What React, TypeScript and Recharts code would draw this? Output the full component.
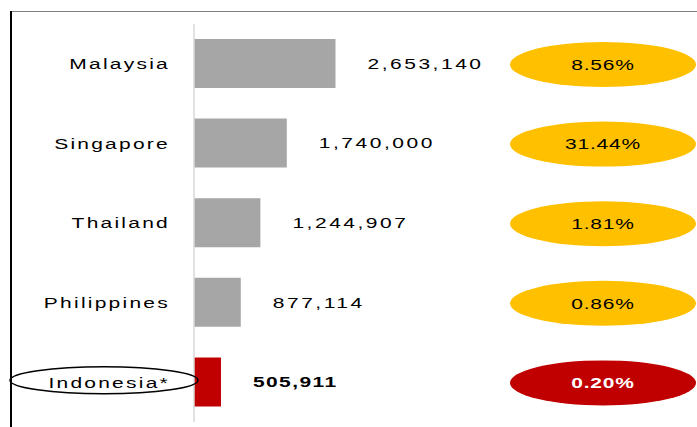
import { Bar, BarChart, Cell, LabelList, XAxis, YAxis } from "recharts";

const countries = ["Malaysia", "Singapore", "Thailand", "Philippines", "Indonesia*"];
const arrivals = [2653140, 1740000, 1244907, 877114, 505911];
const shares = ["8.56%", "31.44%", "1.81%", "0.86%", "0.20%"];
const highlight = "Indonesia*";

const GRAY = "#a6a6a6";
const RED = "#c00000";
const YELLOW = "#ffc000";
const FONT = "'Liberation Sans', Arial, sans-serif";
const STRETCH = 1.4;
const SHARE_CX = 603;

const data = countries.map((country, i) => ({
  country,
  value: arrivals[i],
  share: shares[i],
}));

function box(props: any) {
  const vb = props.viewBox ?? {};
  return {
    x: props.x ?? vb.x,
    y: props.y ?? vb.y,
    width: props.width ?? vb.width,
    height: props.height ?? vb.height,
  };
}

function CountryTick(props: any) {
  const { x, y, payload } = props;
  const hl = payload.value === highlight;
  return (
    <g>
      {hl && <ellipse cx={x - 66} cy={y - 2} rx={94} ry={13.5} fill="none" stroke="#000" strokeWidth={1.5} />}
      <text
        transform={`translate(${x},${y}) scale(${STRETCH},1)`}
        textAnchor="end"
        dominantBaseline="central"
        fontFamily={FONT}
        fontSize={15}
        letterSpacing={1.6}
        fill="#000"
      >
        {payload.value}
      </text>
    </g>
  );
}

function ValueLabel(props: any) {
  const { x, y, width, height } = box(props);
  const hl = countries[props.index] === highlight;
  const tx = x + width + 32;
  const ty = y + height / 2;
  return (
    <text
      transform={`translate(${tx},${ty}) scale(${STRETCH},1)`}
      textAnchor="start"
      dominantBaseline="central"
      fontFamily={FONT}
      fontSize={15}
      fontWeight={hl ? 700 : 400}
      letterSpacing={hl ? 1 : 1.8}
      fill="#000"
    >
      {Number(props.value).toLocaleString("en-US")}
    </text>
  );
}

function ShareLabel(props: any) {
  const { y, height } = box(props);
  const hl = countries[props.index] === highlight;
  const cy = y + height / 2 + 1;
  return (
    <g>
      <ellipse cx={SHARE_CX} cy={cy} rx={93} ry={22.5} fill={hl ? RED : YELLOW} />
      <text
        transform={`translate(${SHARE_CX},${cy}) scale(${STRETCH},1)`}
        textAnchor="middle"
        dominantBaseline="central"
        fontFamily={FONT}
        fontSize={15}
        fontWeight={hl ? 700 : 400}
        letterSpacing={0.6}
        fill={hl ? "#fff" : "#000"}
      >
        {props.value}
      </text>
    </g>
  );
}

export default function App() {
  return (
    <div style={{ position: "relative", width: 697, height: 427, background: "#fff", overflow: "hidden" }}>
      <style>{"body{margin:0}"}</style>
      <div style={{ position: "absolute", left: 10, top: 11, right: 0, height: 1, background: "#7f7f7f" }} />
      <div style={{ position: "absolute", left: 10, top: 11, bottom: 0, width: 2, background: "#000" }} />
      <BarChart
        width={697}
        height={427}
        data={data}
        layout="vertical"
        margin={{ top: 24, right: 23, left: 0, bottom: 5 }}
      >
        <XAxis type="number" hide domain={[0, 9000000]} />
        <YAxis
          type="category"
          dataKey="country"
          width={194}
          axisLine={{ stroke: "#d9d9d9", strokeWidth: 1.5 }}
          tickLine={false}
          tickSize={0}
          tickMargin={24}
          tick={<CountryTick />}
        />
        <Bar dataKey="value" barSize={49} isAnimationActive={false}>
          {data.map((d) => (
            <Cell key={d.country} fill={d.country === highlight ? RED : GRAY} />
          ))}
          <LabelList dataKey="value" content={<ValueLabel />} />
          <LabelList dataKey="share" content={<ShareLabel />} />
        </Bar>
      </BarChart>
    </div>
  );
}
